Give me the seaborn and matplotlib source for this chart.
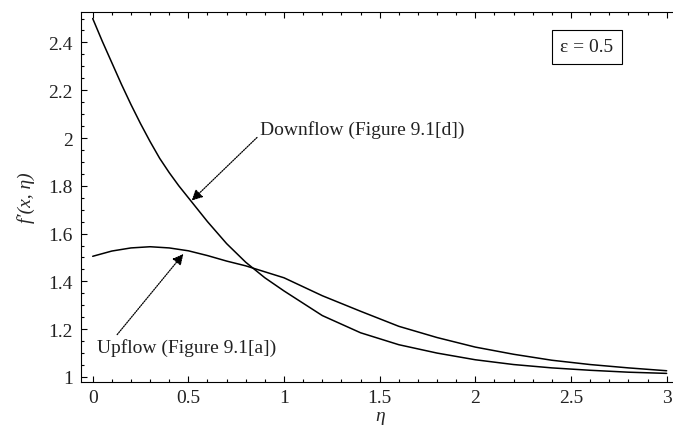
import numpy as np
import pandas as pd
import matplotlib
matplotlib.use("Agg")
import matplotlib.pyplot as plt
from matplotlib.ticker import MultipleLocator, FormatStrFormatter
import seaborn as sns

# ---- data ----
eta_down = [0.0, 0.05, 0.1, 0.15, 0.2, 0.25, 0.3, 0.35, 0.4, 0.45, 0.5,
            0.6, 0.7, 0.8, 0.9, 1.0, 1.2, 1.4, 1.6, 1.8, 2.0,
            2.2, 2.4, 2.6, 2.8, 3.0]
downflow = [2.50, 2.405, 2.315, 2.225, 2.14, 2.06, 1.985, 1.915, 1.855, 1.80, 1.75,
            1.65, 1.558, 1.48, 1.415, 1.36, 1.257, 1.185, 1.135, 1.100, 1.072,
            1.052, 1.038, 1.028, 1.020, 1.015]
eta_up = [0.0, 0.1, 0.2, 0.3, 0.4, 0.5, 0.6, 0.7, 0.8, 0.9, 1.0,
          1.2, 1.4, 1.6, 1.8, 2.0, 2.2, 2.4, 2.6, 2.8, 3.0]
upflow = [1.505, 1.527, 1.540, 1.545, 1.540, 1.528, 1.508, 1.485, 1.465, 1.440, 1.415,
          1.340, 1.275, 1.212, 1.165, 1.125, 1.095, 1.070, 1.052, 1.038, 1.026]
x_ticks = [0, 0.5, 1, 1.5, 2, 2.5, 3]
y_ticks = [1, 1.2, 1.4, 1.6, 1.8, 2, 2.2, 2.4]
downflow_label = "Downflow (Figure 9.1[d])"
upflow_label = "Upflow (Figure 9.1[a])"
eps_label = "\u03b5 = 0.5"
x_label = "\u03b7"
y_label = "f\u2032(x, \u03b7)"

df = pd.DataFrame({
    "eta": eta_down + eta_up,
    "f": downflow + upflow,
    "case": ["Downflow"] * len(eta_down) + ["Upflow"] * len(eta_up),
})

sns.set_style("ticks")
plt.rcParams["font.family"] = ["Liberation Serif", "DejaVu Serif"]

fig = plt.figure(figsize=(6.73, 4.31), dpi=100)
ax = fig.add_axes([0.1207, 0.1114, 0.8869, 0.8577])

sns.lineplot(data=df, x="eta", y="f", units="case", estimator=None,
             color="black", linewidth=1.1, ax=ax, legend=False)

ax.set_xlim(-0.06, 3.06)
ax.set_ylim(0.979, 2.526)
ax.xaxis.set_major_locator(plt.FixedLocator(x_ticks))
ax.yaxis.set_major_locator(plt.FixedLocator(y_ticks))
ax.xaxis.set_minor_locator(MultipleLocator(0.1))
ax.yaxis.set_minor_locator(MultipleLocator(0.05))
ax.xaxis.set_major_formatter(FormatStrFormatter("%g"))
ax.yaxis.set_major_formatter(FormatStrFormatter("%g"))

ax.tick_params(which="both", direction="in", top=True, right=False,
               color="black", width=0.8, labelsize=14, labelcolor="#222222")
ax.tick_params(which="major", length=4.0)
ax.tick_params(which="minor", length=2.2)
ax.tick_params(axis="y", pad=6)
ax.tick_params(axis="x", pad=5)
for s in ax.spines.values():
    s.set_color("black")
    s.set_linewidth(0.8)

ax.set_xlabel(x_label, fontsize=14, style="italic", labelpad=1)
ax.set_ylabel(y_label, fontsize=14, style="italic", labelpad=10)

arrow = dict(arrowstyle="-|>", linestyle=(0, (1, 1)), color="black",
             lw=0.9, mutation_scale=16, shrinkA=0, shrinkB=0)
ax.annotate(downflow_label, xy=(0.517, 1.738), xytext=(0.876, 2.038),
            fontsize=14, ha="left", va="center", color="#222222",
            arrowprops=dict(arrow, relpos=(0.0, 0.2)))
ax.annotate(upflow_label, xy=(0.474, 1.515), xytext=(0.02, 1.126),
            fontsize=14, ha="left", va="center", color="#222222",
            arrowprops=dict(arrow, relpos=(0.1, 1.0)))

ax.text(2.584, 2.381, eps_label, fontsize=14, ha="center", va="center",
        color="#222222",
        bbox=dict(boxstyle="square,pad=0.45", fc="white", ec="black", lw=0.8))

fig.savefig("out.png", dpi=100)
